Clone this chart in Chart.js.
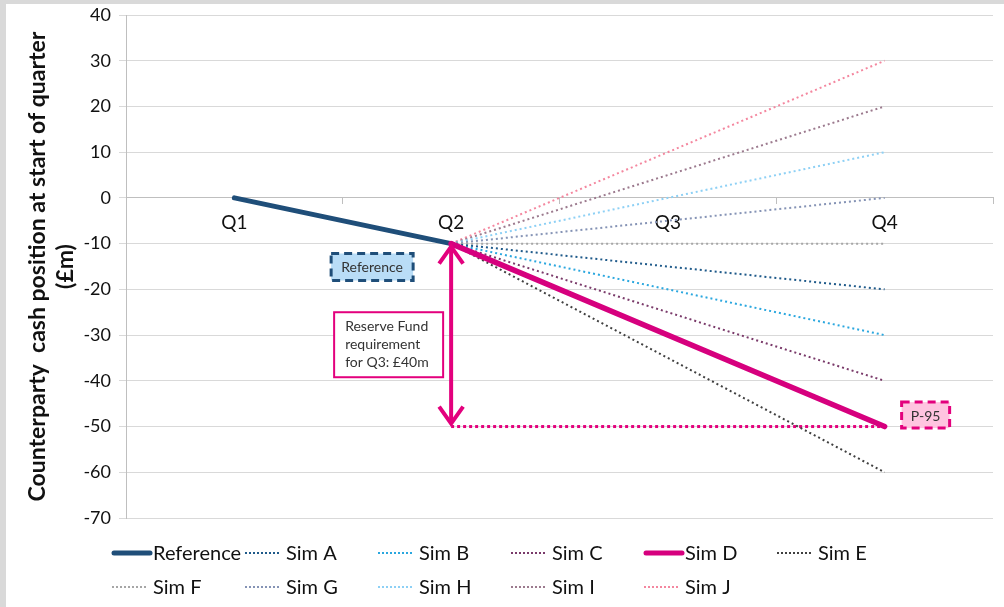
<!DOCTYPE html>
<html>
<head>
<meta charset="utf-8">
<script src="https://cdn.jsdelivr.net/npm/chart.js@4.4.1/dist/chart.umd.min.js"></script>
<style>
  html, body { margin: 0; padding: 0; background: #d9d9d9; }
  #wrap { position: absolute; left: 0; top: 0; width: 1004px; height: 607px; }
</style>
</head>
<body>
<div id="wrap"><canvas id="c" width="1004" height="607"></canvas></div>
<script>
// Quarters and cash positions (£m) at the start of each quarter
const quarters = ['Q1', 'Q2', 'Q3', 'Q4'];
const referencePath = [0, -10, null, null];
const simNames = ['Sim A', 'Sim B', 'Sim C', 'Sim D', 'Sim E', 'Sim F', 'Sim G', 'Sim H', 'Sim I', 'Sim J'];
const simStart = -10;                       // every simulation branches from Q2
const simEnd = [-20, -30, -40, -50, -60, -10, 0, 10, 20, 30];  // position at Q4
const simColors = ['#1f5a8a', '#2aa7df', '#7a3a6a', '#d6007e', '#404040',
                   '#a6a6a6', '#8593b5', '#8dd0f5', '#9c7a8e', '#f4879f'];
const yTicks = { min: -70, max: 40, step: 10 };
const reserveFloor = -50;                   // P-95 outcome
const reserveText = ['Reserve Fund', 'requirement', 'for Q3: £40m'];

const FONT = 'Lato, "Open Sans", sans-serif';
const MAGENTA = '#e3007d';
const REF_BLUE = '#1f4e79';

const datasets = [{
  label: 'Reference',
  data: referencePath,
  borderColor: REF_BLUE,
  borderWidth: 5,
  borderCapStyle: 'round',
  pointRadius: 0,
  spanGaps: true,
  order: 1
}];
simNames.forEach((name, i) => {
  const thick = name === 'Sim D';
  datasets.push({
    label: name,
    data: [null, simStart, null, simEnd[i]],
    borderColor: simColors[i],
    borderWidth: thick ? 5.5 : 2,
    borderDash: thick ? [] : [2, 3],
    borderCapStyle: thick ? 'round' : 'butt',
    pointRadius: 0,
    spanGaps: true,
    order: thick ? 0 : 2
  });
});

// white sheet with a grey frame on the top and left edges
const sheet = {
  id: 'sheet',
  beforeDraw(chart) {
    const ctx = chart.ctx;
    ctx.save();
    ctx.fillStyle = '#d9d9d9';
    ctx.fillRect(0, 0, chart.width, chart.height);
    ctx.fillStyle = '#ffffff';
    ctx.fillRect(6, 4, chart.width - 6, chart.height - 4);
    ctx.restore();
  }
};

function dashedBox(ctx, x, y, w, h, fill, stroke, dash, lw) {
  ctx.save();
  ctx.fillStyle = fill;
  ctx.fillRect(x, y, w, h);
  ctx.strokeStyle = stroke;
  ctx.lineWidth = lw;
  ctx.setLineDash(dash);
  ctx.strokeRect(x, y, w, h);
  ctx.restore();
}

// reserve requirement callouts
const callouts = {
  id: 'callouts',
  beforeDatasetsDraw(chart) {
    const { ctx, scales: { x, y } } = chart;
    const x2 = x.getPixelForValue(1), x4 = x.getPixelForValue(3);
    const yf = y.getPixelForValue(reserveFloor);
    ctx.save();
    ctx.strokeStyle = MAGENTA;
    ctx.lineWidth = 3;
    ctx.setLineDash([3, 3]);
    ctx.beginPath();
    ctx.moveTo(x2, yf);
    ctx.lineTo(x4, yf);
    ctx.stroke();
    ctx.restore();
  },
  afterDatasetsDraw(chart) {
    const { ctx, scales: { x, y } } = chart;
    const x2 = x.getPixelForValue(1), x4 = x.getPixelForValue(3);
    const yTop = y.getPixelForValue(simStart);
    const yBot = y.getPixelForValue(reserveFloor);

    // double-headed arrow between Q2 position and the P-95 floor
    ctx.save();
    ctx.strokeStyle = MAGENTA;
    ctx.lineWidth = 4;
    ctx.lineCap = 'butt';
    ctx.lineJoin = 'miter';
    ctx.beginPath();
    ctx.moveTo(x2, yTop + 3);
    ctx.lineTo(x2, yBot - 3);
    ctx.stroke();
    ctx.beginPath();
    ctx.moveTo(x2 - 12, yTop + 20);
    ctx.lineTo(x2, yTop + 3);
    ctx.lineTo(x2 + 12, yTop + 20);
    ctx.moveTo(x2 - 12, yBot - 20);
    ctx.lineTo(x2, yBot - 3);
    ctx.lineTo(x2 + 12, yBot - 20);
    ctx.stroke();
    ctx.restore();

    ctx.save();
    ctx.font = '14px ' + FONT;
    ctx.fillStyle = '#333333';
    ctx.textBaseline = 'middle';

    // "Reference" tag
    const ry = y.getPixelForValue(-15);
    dashedBox(ctx, x2 - 120, ry - 13, 82, 27, '#b9ddf7', REF_BLUE, [8, 5], 3);
    ctx.fillStyle = '#333333';
    ctx.textAlign = 'center';
    ctx.fillText('Reference', x2 - 79, ry + 1);

    // reserve fund text box
    const bx = x2 - 117, by = y.getPixelForValue(-25);
    ctx.fillStyle = '#ffffff';
    ctx.fillRect(bx, by, 109, 65);
    ctx.strokeStyle = MAGENTA;
    ctx.lineWidth = 2;
    ctx.strokeRect(bx, by, 109, 65);
    ctx.fillStyle = '#333333';
    ctx.textAlign = 'left';
    reserveText.forEach((t, i) => ctx.fillText(t, bx + 11, by + 14 + i * 18));

    // P-95 tag
    const py = y.getPixelForValue(-47.5);
    dashedBox(ctx, x4 + 17, py - 13, 48, 26, '#ffc4e0', MAGENTA, [8, 5], 3);
    ctx.fillStyle = '#333333';
    ctx.textAlign = 'center';
    ctx.fillText('P-95', x4 + 41, py + 1);
    ctx.restore();
  }
};

// two-row legend laid out on a fixed column grid
const gridLegend = {
  id: 'gridLegend',
  afterDraw(chart) {
    const ctx = chart.ctx;
    ctx.save();
    ctx.font = '20px ' + FONT;
    ctx.textBaseline = 'middle';
    ctx.textAlign = 'left';
    chart.data.datasets.forEach((ds, i) => {
      const col = i < 6 ? i : i - 6;
      const row = i < 6 ? 0 : 1;
      const x0 = 112 + 133 * col;
      const yy = 553 + 34 * row;
      const thick = ds.borderWidth > 3;
      ctx.strokeStyle = ds.borderColor;
      ctx.lineWidth = thick ? 5 : 2;
      ctx.lineCap = thick ? 'round' : 'butt';
      ctx.setLineDash(thick ? [] : [2, 2]);
      ctx.beginPath();
      ctx.moveTo(x0 + (thick ? 2 : 0), yy);
      ctx.lineTo(x0 + (thick ? 38 : 35), yy);
      ctx.stroke();
      ctx.setLineDash([]);
      ctx.fillStyle = '#111111';
      ctx.fillText(ds.label, x0 + 41, yy + 1);
    });
    ctx.restore();
  }
};

new Chart(document.getElementById('c'), {
  type: 'line',
  data: { labels: quarters, datasets },
  plugins: [sheet, callouts, gridLegend],
  options: {
    responsive: false,
    animation: false,
    layout: { padding: { left: 20, right: 11, top: 15, bottom: 89 } },
    plugins: { legend: { display: false }, tooltip: { enabled: false } },
    scales: {
      x: {
        type: 'category',
        position: { y: 0 },
        offset: true,
        border: { display: true, color: '#bfbfbf', width: 1 },
        grid: { display: true, drawOnChartArea: false, offset: true, color: '#bfbfbf', tickLength: 6 },
        ticks: { color: '#111111', font: { family: FONT, size: 19 }, padding: 8 }
      },
      y: {
        min: yTicks.min,
        max: yTicks.max,
        afterFit(scale) {
          scale.width = 106;
          scale.paddingTop = 0;
          scale.paddingBottom = 0;
        },
        border: { display: true, color: '#bfbfbf', width: 1 },
        grid: { color: '#d9d9d9', lineWidth: 1, tickLength: 7 },
        ticks: { stepSize: yTicks.step, color: '#111111', font: { family: FONT, size: 18 }, padding: 8 },
        title: {
          display: true,
          text: ['Counterparty  cash position at start of quarter', '(£m)'],
          color: '#111111',
          font: { family: FONT, size: 23, weight: 'bold', lineHeight: 1.2 },
          padding: { top: 4, bottom: 0 }
        }
      }
    }
  }
});
</script>
</body>
</html>
